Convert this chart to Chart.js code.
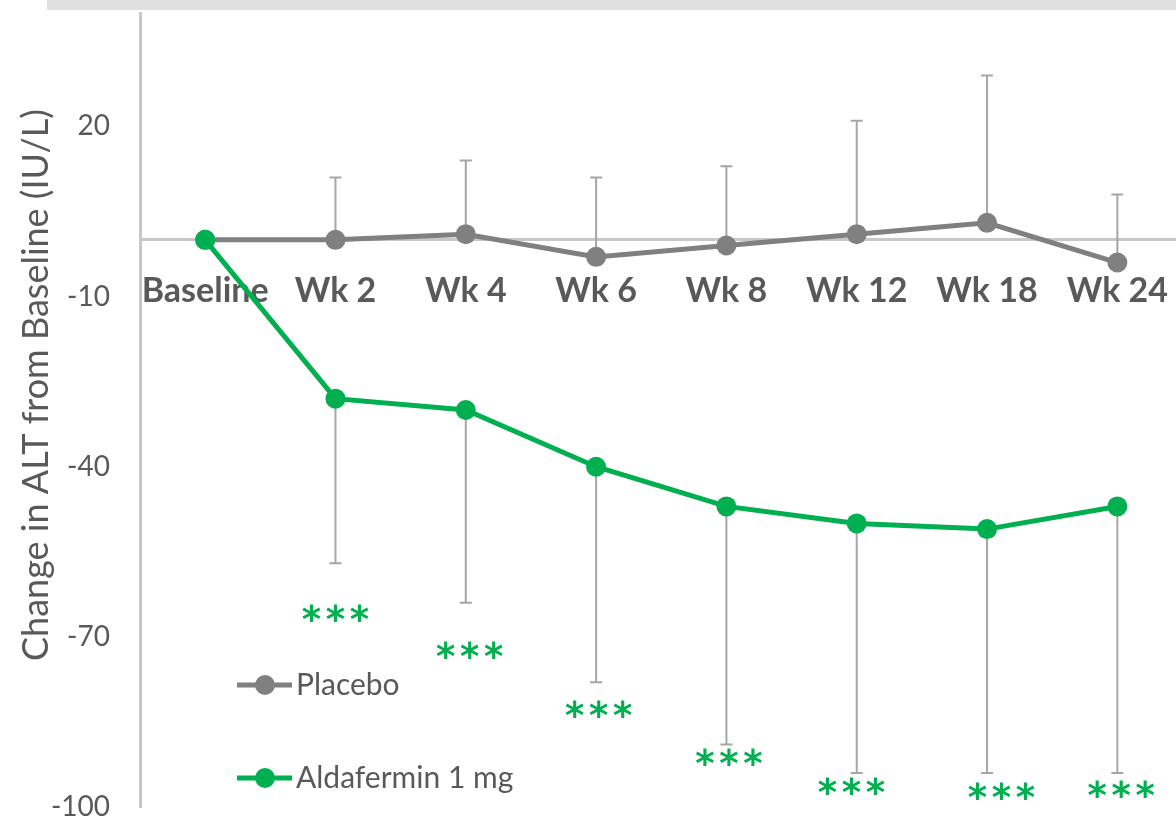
<!DOCTYPE html>
<html>
<head>
<meta charset="utf-8">
<script src="https://cdn.jsdelivr.net/npm/chart.js@4.4.1/dist/chart.umd.min.js"></script>
<style>
  html, body { margin: 0; padding: 0; background: #fff; }
  #wrap { width: 1176px; height: 821px; }
</style>
</head>
<body>
<div id="wrap"><canvas id="altChart" width="1176" height="821"></canvas></div>
<script>
// visits and mean change in ALT (IU/L)
const visits = ["Baseline", "Wk 2", "Wk 4", "Wk 6", "Wk 8", "Wk 12", "Wk 18", "Wk 24"];
const placeboMean = [0, 0, 1, -3, -1, 1, 3, -4];
const placeboUpper = [null, 11, 14, 11, 13, 21, 29, 8];
const aldaMean = [0, -28, -30, -40, -47, -50, -51, -47];
const aldaLower = [null, -57, -64, -78, -89, -94, -94, -94];
// where the *** marks sit (visit index, y value)
const starX = [null, 1, 2.03, 3.02, 4.02, 4.96, 6.11, 7.03];
const starLevel = [null, -66, -72.5, -83, -91.5, -96.5, -97.5, -97];
const yTicks = [-100, -70, -40, -10, 20];
const yTitle = "Change in ALT from Baseline (IU/L)";

const textGray = "#595959";
const axisGray = "#c8c8c8";
const green = "#00b050";
const gray = "#808080";

const topBand = {
  id: "topBand",
  beforeDraw(chart) {
    const ctx = chart.ctx;
    ctx.save();
    ctx.fillStyle = "#e0e0e0";
    ctx.fillRect(47, 0, chart.width - 47, 10);
    ctx.restore();
  }
};

// y title sits a little above the middle of the axis, so it is drawn here
const sideTitle = {
  id: "sideTitle",
  afterDraw(chart) {
    const ctx = chart.ctx;
    ctx.save();
    ctx.translate(36, 385);
    ctx.rotate(-Math.PI / 2);
    ctx.font = "36px Lato";
    ctx.fillStyle = textGray;
    ctx.textAlign = "center";
    ctx.textBaseline = "middle";
    ctx.fillText(yTitle, 0, 0);
    ctx.restore();
  }
};

const errorBars = {
  id: "errorBars",
  beforeDatasetsDraw(chart) {
    const { ctx, scales: { x, y } } = chart;
    ctx.save();
    ctx.strokeStyle = "#a6a6a6";
    ctx.lineWidth = 2;
    chart.data.datasets.forEach(ds => {
      if (!ds.errorEnds) return;
      ds.errorEnds.forEach((end, i) => {
        if (end == null) return;
        const px = x.getPixelForValue(i);
        const y0 = y.getPixelForValue(ds.data[i].y);
        const y1 = y.getPixelForValue(end);
        ctx.beginPath();
        ctx.moveTo(px, y0);
        ctx.lineTo(px, y1);
        ctx.moveTo(px - 6, y1);
        ctx.lineTo(px + 6, y1);
        ctx.stroke();
      });
    });
    ctx.restore();
  }
};

const stars = {
  id: "stars",
  afterDatasetsDraw(chart) {
    const { ctx, scales: { x, y } } = chart;
    ctx.save();
    ctx.fillStyle = green;
    ctx.font = "bold 37px 'DejaVu Sans'";
    ctx.textAlign = "center";
    ctx.textBaseline = "middle";
    starLevel.forEach((v, i) => {
      if (v == null) return;
      const cx = x.getPixelForValue(starX[i]);
      const cy = y.getPixelForValue(v) + 8;
      [-24, 0, 24].forEach(dx => ctx.fillText("*", cx + dx, cy));
    });
    ctx.restore();
  }
};

// legend sits inside the plot, lower left
const insideLegend = {
  id: "insideLegend",
  afterDatasetsDraw(chart) {
    const ctx = chart.ctx;
    const rows = [685, 778];
    ctx.save();
    ctx.font = "30px Lato";
    ctx.textBaseline = "middle";
    chart.data.datasets.forEach((ds, i) => {
      const yy = rows[i];
      ctx.strokeStyle = ds.borderColor;
      ctx.lineWidth = 5;
      ctx.beginPath();
      ctx.moveTo(237, yy);
      ctx.lineTo(292, yy);
      ctx.stroke();
      ctx.fillStyle = ds.borderColor;
      ctx.beginPath();
      ctx.arc(265, yy, 10, 0, Math.PI * 2);
      ctx.fill();
      ctx.fillStyle = textGray;
      ctx.fillText(ds.label, 296, yy);
    });
    ctx.restore();
  }
};

const toPoints = arr => arr.map((v, i) => ({ x: i, y: v }));

new Chart(document.getElementById("altChart"), {
  type: "line",
  data: {
    datasets: [
      {
        label: "Placebo",
        data: toPoints(placeboMean),
        errorEnds: placeboUpper,
        borderColor: gray,
        backgroundColor: gray,
        borderWidth: 5,
        pointRadius: 10,
        pointBorderWidth: 0,
        tension: 0,
        order: 1
      },
      {
        label: "Aldafermin 1 mg",
        data: toPoints(aldaMean),
        errorEnds: aldaLower,
        borderColor: green,
        backgroundColor: green,
        borderWidth: 5,
        pointRadius: 10,
        pointBorderWidth: 0,
        tension: 0,
        order: 0
      }
    ]
  },
  options: {
    responsive: false,
    animation: false,
    devicePixelRatio: 1,
    layout: { autoPadding: false, padding: { top: 13, bottom: 14, left: 0, right: 0 } },
    plugins: { legend: { display: false }, tooltip: { enabled: false } },
    scales: {
      x: {
        type: "linear",
        position: { y: 0 },
        min: -0.5,
        max: 7.45,
        afterBuildTicks: s => { s.ticks = visits.map((_, i) => ({ value: i })); },
        grid: { display: false, drawTicks: false },
        border: { display: true, color: axisGray, width: 3 },
        ticks: {
          callback: v => visits[v],
          color: textGray,
          font: { family: "Lato", size: 34, weight: "bold" },
          padding: 31,
          maxRotation: 0,
          autoSkip: false
        },
        afterFit: s => {
          s.height = 0;
          s.paddingLeft = 0;
          s.paddingRight = 0;
        }
      },
      y: {
        min: -100,
        max: 40,
        afterBuildTicks: s => { s.ticks = yTicks.map(v => ({ value: v })); },
        grid: { display: false, drawTicks: false },
        border: { display: true, color: axisGray, width: 3 },
        ticks: {
          color: textGray,
          font: { family: "Lato", size: 28 },
          padding: 30
        },
        afterFit: s => {
          s.width = 140;
          s.paddingTop = 0;
          s.paddingBottom = 0;
        }
      }
    }
  },
  plugins: [topBand, sideTitle, errorBars, stars, insideLegend]
});
</script>
</body>
</html>
